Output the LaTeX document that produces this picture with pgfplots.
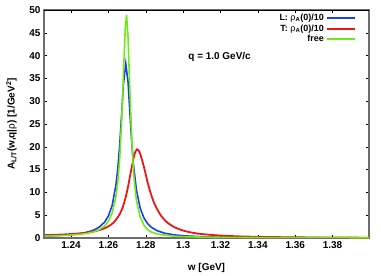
\documentclass[border=0pt]{standalone}
\usepackage{pgfplots}
\pgfplotsset{compat=1.18}
\usepackage{fontspec}
\setmainfont{Liberation Sans}
\definecolor{cblue}{RGB}{30,60,235}
\definecolor{cred}{RGB}{240,20,20}
\definecolor{cgreen}{RGB}{110,235,20}
\definecolor{axgray}{RGB}{110,110,110}
\begin{document}
\begin{tikzpicture}[font=\fontsize{10}{12}\selectfont\bfseries]
\begin{axis}[name=ax, scale only axis, width=325bp, height=228bp,
  xmin=1.2255, xmax=1.3995, ymin=0, ymax=50,
  xtick={1.24,1.26,1.28,1.30,1.32,1.34,1.36,1.38},
  ytick={0,5,10,15,20,25,30,35,40,45,50},
  xticklabel style={/pgf/number format/fixed,/pgf/number format/precision=2},
  /pgf/number format/assume math mode=true,
  tick align=inside, major tick length=3bp,
  tick style={black, line width=0.4pt},
  axis line style={draw=axgray, line width=1.1pt},
  xlabel={w [GeV]},
  ylabel={A\textsubscript{L/T}(w,q|{\mdseries ρ}) [1/GeV\textsuperscript{2}]},
  xlabel style={at={(axis description cs:0.5,-0.13)}, anchor=center},
  ylabel style={at={(axis description cs:-0.1,0.5)}, anchor=center},
  legend plot pos=right,
  legend cell align=right,
  legend image code/.code={\draw[#1, line width=2pt] (0bp,0bp) -- (28bp,0bp);},
  legend style={draw=none, fill=none, at={(rel axis cs:0.963,0.995)}, anchor=north east,
    inner sep=1pt, row sep=-1.5pt, font=\fontsize{9}{10}\selectfont\bfseries},
]
\addplot[cblue, line width=1.6pt] coordinates {
(1.226,0.45) (1.232,0.53) (1.238,0.67) (1.244,0.92) (1.248,1.2) (1.252,1.70)
(1.255,2.36) (1.258,3.5) (1.260,4.85) (1.262,7.14) (1.264,11.6) (1.265,15.2)
(1.266,20.2) (1.267,26.7) (1.268,33.6) (1.2693,38.2) (1.2705,34.2) (1.2715,27.4)
(1.2725,20.8) (1.2735,15.66) (1.275,10.5) (1.277,6.54) (1.279,4.40) (1.281,3.14)
(1.283,2.34) (1.286,1.61) (1.29,1.06) (1.295,0.70) (1.30,0.49) (1.31,0.28)
(1.32,0.18) (1.34,0.093) (1.36,0.057) (1.38,0.038) (1.3995,0.027)
};
\addlegendentry{L: {\mdseries ρ\textsubscript{\bfseries A}}(0)/10}
\addplot[cred, line width=1.8pt, smooth] coordinates {
(1.226,0.64) (1.232,0.71) (1.238,0.82) (1.244,0.99) (1.248,1.16) (1.252,1.43)
(1.256,1.83) (1.260,2.55) (1.263,3.49) (1.266,5.2) (1.268,7.17) (1.270,10.27)
(1.272,14.53) (1.2735,17.6) (1.2745,19.0) (1.2753,19.45) (1.2762,19.2)
(1.2772,18.2) (1.279,15.6)
(1.281,12.17) (1.283,9.34) (1.285,7.19) (1.288,4.97) (1.291,3.58) (1.295,2.44)
(1.30,1.63) (1.305,1.16) (1.31,0.86) (1.32,0.53) (1.33,0.36) (1.34,0.26)
(1.36,0.15) (1.38,0.10) (1.3995,0.07)
};
\addlegendentry{T: {\mdseries ρ\textsubscript{\bfseries A}}(0)/10}
\addplot[cgreen, line width=1.6pt] coordinates {
(1.226,0.44) (1.232,0.50) (1.238,0.60) (1.244,0.78) (1.248,0.98) (1.252,1.33)
(1.255,1.80) (1.258,2.65) (1.260,3.7) (1.262,5.5) (1.264,9.0) (1.265,12.2)
(1.266,17.2) (1.267,25.0) (1.268,35.5) (1.269,46.0) (1.2697,48.9) (1.2705,44.0)
(1.2715,32.0) (1.2725,21.5) (1.2735,14.0) (1.275,8.2) (1.277,4.6) (1.279,2.8)
(1.281,1.8) (1.283,1.3) (1.286,0.9) (1.29,0.62) (1.295,0.42) (1.30,0.3)
(1.31,0.2) (1.32,0.15) (1.34,0.1) (1.36,0.08) (1.38,0.07) (1.3995,0.06)
};
\addlegendentry{free}
\draw[black, line width=0.5pt] (rel axis cs:0,1) -- (rel axis cs:1,1);
\node[anchor=center] at (axis cs:1.3195,39.7) {q = 1.0 GeV/c};
\end{axis}
\pgfresetboundingbox
\path[use as bounding box] ([xshift=-44bp,yshift=-38bp]ax.south west) rectangle ([xshift=12bp,yshift=10bp]ax.north east);
\end{tikzpicture}
\end{document}
